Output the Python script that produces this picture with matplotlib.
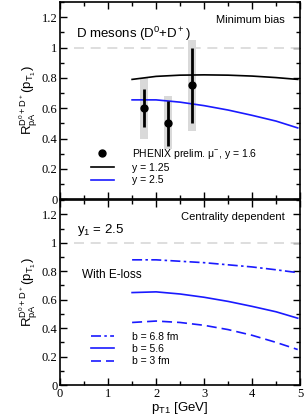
import numpy as np
import matplotlib.pyplot as plt
from matplotlib.ticker import MultipleLocator
from matplotlib.lines import Line2D

# model curves
pt = [1.5, 2.0, 2.5, 3.0, 3.5, 4.0, 4.5, 4.95]
y125 = [0.79, 0.81, 0.818, 0.82, 0.818, 0.812, 0.802, 0.79]
y25 = [0.655, 0.655, 0.64, 0.617, 0.588, 0.553, 0.515, 0.47]
b68 = [0.88, 0.88, 0.87, 0.86, 0.845, 0.83, 0.81, 0.79]
b56 = [0.65, 0.655, 0.64, 0.617, 0.588, 0.553, 0.515, 0.47]
b3 = [0.44, 0.45, 0.44, 0.42, 0.39, 0.35, 0.30, 0.25]

# PHENIX preliminary points
ph_x = [1.75, 2.25, 2.75]
ph_y = [0.6, 0.5, 0.75]
ph_lo = [0.475, 0.35, 0.5]
ph_hi = [0.725, 0.65, 1.0]
sys_lo = [0.4, 0.33, 0.45]
sys_hi = [0.8, 0.68, 1.05]

serif = "Liberation Serif"
sans = "Liberation Sans"
plt.rcParams["font.family"] = sans
plt.rcParams["mathtext.fontset"] = "custom"
plt.rcParams["mathtext.rm"] = sans
plt.rcParams["mathtext.it"] = sans

fig = plt.figure(figsize=(3.05, 4.15), dpi=100)
ax1 = fig.add_axes([0.197, 0.52, 0.787, 0.475])
ax2 = fig.add_axes([0.197, 0.072, 0.787, 0.446])

ylab = r"R$_{\rm pA}^{\rm D^0+D^+}$(p$_{\rm T_1}$)"
blue = "#1a1aff"

for ax in (ax1, ax2):
    ax.set_xlim(0, 5)
    ax.set_ylim(0, 1.3)
    ax.xaxis.set_major_locator(MultipleLocator(1))
    ax.xaxis.set_minor_locator(MultipleLocator(0.5))
    ax.yaxis.set_major_locator(MultipleLocator(0.2))
    ax.yaxis.set_minor_locator(MultipleLocator(0.1))
    ax.yaxis.set_major_formatter(plt.FuncFormatter(lambda v, p: "%g" % round(v, 1)))
    ax.tick_params(which="both", direction="in", top=True, right=True, width=1)
    ax.tick_params(which="major", length=5, labelsize=9, pad=2,
                   labelfontfamily=serif)
    ax.tick_params(which="minor", length=3)
    for s in ax.spines.values():
        s.set_linewidth(1.2)
    ax.set_ylabel(ylab, fontsize=9.5, labelpad=1)
    ax.plot([0.3, 5], [1, 1], color="#d8d8d8", lw=1.2, ls=(0, (6, 4)))

ax1.tick_params(labelbottom=False)

# top panel
for x, lo, hi in zip(ph_x, sys_lo, sys_hi):
    ax1.fill_between([x - 0.08, x + 0.08], lo, hi, color="#d9d9d9", lw=0, zorder=1)
yerr = [np.array(ph_y) - np.array(ph_lo), np.array(ph_hi) - np.array(ph_y)]
ax1.errorbar(ph_x, ph_y, yerr=yerr, fmt="o", color="black", ms=5, elinewidth=2,
             capsize=0, zorder=3)
l1, = ax1.plot(pt, y125, color="black", lw=1.2, zorder=2)
l2, = ax1.plot(pt, y25, color=blue, lw=1.2, zorder=2)
dot = Line2D([], [], ls="none", marker="o", color="black", ms=5)
ax1.legend([dot, l1, l2],
           [r"PHENIX prelim. $\mu^{-}$, y = 1.6", "y = 1.25", "y = 2.5"],
           loc="lower left", bbox_to_anchor=(0.11, 0.05), frameon=False, fontsize=7.5,
           handlelength=2.2, handletextpad=1.8, labelspacing=0.2, borderaxespad=0)
ax1.text(4.68, 1.18, "Minimum bias", ha="right", va="center", fontsize=8)
ax1.text(0.33, 1.09, r"D mesons (D$^0$+D$^+$)", ha="left", va="center", fontsize=9.5)

# bottom panel
ax2.plot(pt, b68, color=blue, lw=1.2, ls=(0, (6, 2, 1.5, 2)), label="b = 6.8 fm")
ax2.plot(pt, b56, color=blue, lw=1.2, label="b = 5.6")
ax2.plot(pt, b3, color=blue, lw=1.2, ls=(0, (6, 3)), label="b = 3 fm")
ax2.legend(loc="lower left", bbox_to_anchor=(0.11, 0.08), frameon=False, fontsize=7.5,
           handlelength=2.2, handletextpad=1.8, labelspacing=0.2, borderaxespad=0)
ax2.text(4.68, 1.18, "Centrality dependent", ha="right", va="center", fontsize=8)
ax2.text(0.35, 1.09, r"y$_1$ = 2.5", ha="left", va="center", fontsize=9.5)
ax2.text(0.45, 0.77, "With E-loss", ha="left", va="center", fontsize=8.5)
ax2.set_xlabel(r"p$_{\rm T1}$ [GeV]", fontsize=9.5, labelpad=0)

fig.savefig("out.png", dpi=100)
